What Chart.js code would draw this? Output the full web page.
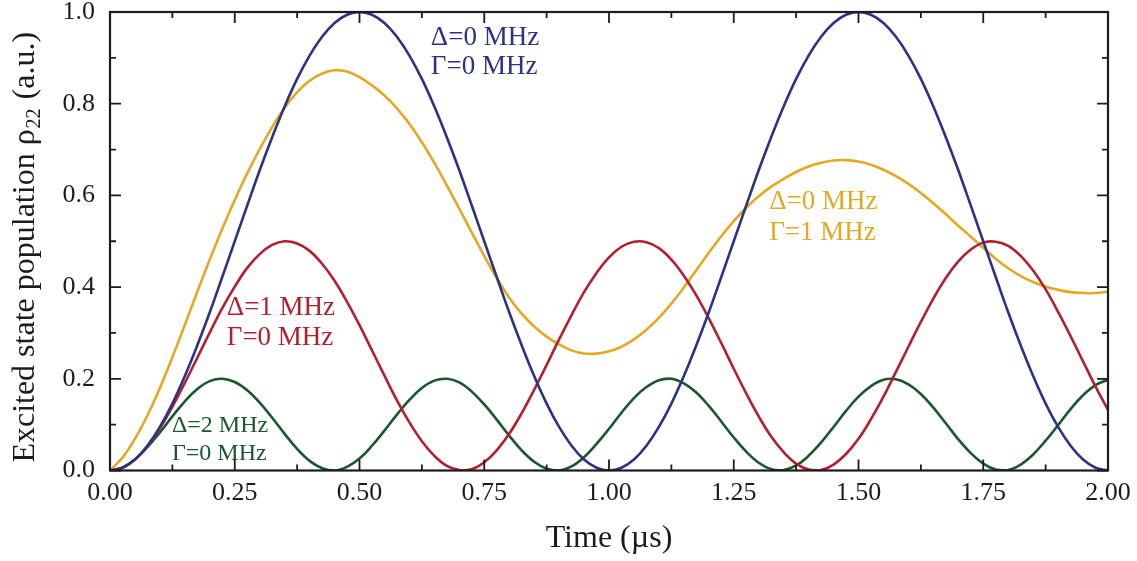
<!DOCTYPE html>
<html>
<head>
<meta charset="utf-8">
<title>Excited state population</title>
<script src="https://cdn.jsdelivr.net/npm/chart.js@4.4.1/dist/chart.umd.min.js"></script>
<style>
  html, body { margin: 0; padding: 0; background: #fff; }
  #wrap { position: relative; width: 1137px; height: 561px; }
</style>
</head>
<body>
<div id="wrap"><canvas id="rabi-chart"></canvas></div>
<script>
// time axis, µs
const timeUs = [
  0, 0.025, 0.05, 0.075, 0.1, 0.125, 0.15, 0.175, 0.2, 0.225,
  0.25, 0.275, 0.3, 0.325, 0.35, 0.375, 0.4, 0.425, 0.45, 0.475,
  0.5, 0.525, 0.55, 0.575, 0.6, 0.625, 0.65, 0.675, 0.7, 0.725,
  0.75, 0.775, 0.8, 0.825, 0.85, 0.875, 0.9, 0.925, 0.95, 0.975,
  1.0, 1.025, 1.05, 1.075, 1.1, 1.125, 1.15, 1.175, 1.2, 1.225,
  1.25, 1.275, 1.3, 1.325, 1.35, 1.375, 1.4, 1.425, 1.45, 1.475,
  1.5, 1.525, 1.55, 1.575, 1.6, 1.625, 1.65, 1.675, 1.7, 1.725,
  1.75, 1.775, 1.8, 1.825, 1.85, 1.875, 1.9, 1.925, 1.95, 1.975,
  2.0
];

// Δ=0, Γ=0
const rhoD0G0 = [
  0, 0.006, 0.024, 0.054, 0.095, 0.146, 0.206, 0.273, 0.345, 0.422,
  0.5, 0.578, 0.655, 0.727, 0.794, 0.854, 0.905, 0.946, 0.976, 0.994,
  1.0, 0.994, 0.976, 0.946, 0.905, 0.854, 0.794, 0.727, 0.655, 0.578,
  0.5, 0.422, 0.345, 0.273, 0.206, 0.146, 0.095, 0.054, 0.024, 0.006,
  0, 0.006, 0.024, 0.054, 0.095, 0.146, 0.206, 0.273, 0.345, 0.422,
  0.5, 0.578, 0.655, 0.727, 0.794, 0.854, 0.905, 0.946, 0.976, 0.994,
  1.0, 0.994, 0.976, 0.946, 0.905, 0.854, 0.794, 0.727, 0.655, 0.578,
  0.5, 0.422, 0.345, 0.273, 0.206, 0.146, 0.095, 0.054, 0.024, 0.006,
  0
];

// Δ=1 MHz, Γ=0
const rhoD1G0 = [
  0, 0.006, 0.024, 0.053, 0.092, 0.139, 0.191, 0.246, 0.301, 0.354,
  0.401, 0.442, 0.472, 0.492, 0.500, 0.495, 0.479, 0.451, 0.414, 0.368,
  0.317, 0.262, 0.207, 0.153, 0.105, 0.064, 0.032, 0.010, 0.001, 0.003,
  0.018, 0.044, 0.080, 0.125, 0.176, 0.230, 0.286, 0.339, 0.389, 0.431,
  0.465, 0.488, 0.499, 0.498, 0.485, 0.460, 0.425, 0.382, 0.332, 0.278,
  0.222, 0.168, 0.118, 0.074, 0.040, 0.015, 0.002, 0.001, 0.013, 0.036,
  0.069, 0.112, 0.161, 0.215, 0.270, 0.324, 0.375, 0.420, 0.456, 0.482,
  0.497, 0.499, 0.490, 0.468, 0.436, 0.395, 0.346, 0.293, 0.238, 0.183,
  0.132
];

// Δ=2 MHz, Γ=0
const rhoD2G0 = [
  0, 0.006, 0.024, 0.051, 0.083, 0.118, 0.151, 0.178, 0.195, 0.200,
  0.193, 0.175, 0.148, 0.115, 0.080, 0.047, 0.021, 0.005, 0.000, 0.008,
  0.026, 0.054, 0.087, 0.122, 0.154, 0.180, 0.196, 0.200, 0.192, 0.172,
  0.144, 0.111, 0.076, 0.044, 0.019, 0.004, 0.000, 0.009, 0.029, 0.058,
  0.091, 0.126, 0.158, 0.182, 0.197, 0.200, 0.190, 0.170, 0.141, 0.107,
  0.072, 0.041, 0.017, 0.003, 0.001, 0.011, 0.032, 0.061, 0.095, 0.130,
  0.161, 0.184, 0.198, 0.199, 0.188, 0.167, 0.137, 0.103, 0.068, 0.038,
  0.015, 0.002, 0.001, 0.013, 0.035, 0.065, 0.099, 0.134, 0.164, 0.186,
  0.198
];

// Δ=0, Γ=1 MHz
const rhoD0G1 = [
  0, 0.028, 0.069, 0.120, 0.180, 0.247, 0.318, 0.390, 0.460, 0.527,
  0.590, 0.648, 0.701, 0.749, 0.791, 0.825, 0.850, 0.866, 0.873, 0.870,
  0.858, 0.840, 0.818, 0.790, 0.756, 0.716, 0.671, 0.622, 0.571, 0.519,
  0.468, 0.420, 0.377, 0.342, 0.314, 0.292, 0.275, 0.262, 0.255, 0.255,
  0.260, 0.270, 0.286, 0.307, 0.333, 0.364, 0.399, 0.437, 0.475, 0.511,
  0.544, 0.573, 0.598, 0.619, 0.636, 0.651, 0.663, 0.671, 0.676, 0.677,
  0.674, 0.667, 0.656, 0.642, 0.625, 0.605, 0.583, 0.559, 0.534, 0.510,
  0.486, 0.462, 0.441, 0.424, 0.411, 0.401, 0.394, 0.389, 0.387, 0.387,
  0.390
];

const xTickLabels = ['0.00', '0.25', '0.50', '0.75', '1.00', '1.25', '1.50', '1.75', '2.00'];
const yTickLabels = ['0.0', '0.2', '0.4', '0.6', '0.8', '1.0'];

const BLUE = '#2b3385';
const RED = '#b2202f';
const GOLD = '#e4a823';
const GREEN = '#18582a';
const INK = '#1c1c1c';
const SERIF = '"Liberation Serif", "Times New Roman", serif';

// curve annotations, anchored in data units (left edge, first baseline)
const curveLabels = [
  { lines: ['Δ=0 MHz', 'Γ=0 MHz'], t: 0.643, v: 0.928, color: BLUE, size: 27, gap: 29 },
  { lines: ['Δ=0 MHz', 'Γ=1 MHz'], t: 1.321, v: 0.570, color: GOLD, size: 27, gap: 31 },
  { lines: ['Δ=1 MHz', 'Γ=0 MHz'], t: 0.234, v: 0.339, color: RED, size: 27, gap: 30 },
  { lines: ['Δ=2 MHz', 'Γ=0 MHz'], t: 0.124, v: 0.085, color: GREEN, size: 24, gap: 28 }
];

const MAJOR = 11;
const MINOR = 6;

function line(values, color) {
  return {
    data: timeUs.map((t, i) => ({ x: t, y: values[i] })),
    borderColor: color,
    borderWidth: 2.6,
    pointRadius: 0,
    fill: false,
    tension: 0.4
  };
}

// box frame with inward major/minor ticks on all four sides
const axesFrame = {
  id: 'axesFrame',
  afterDatasetsDraw(chart) {
    const { ctx, chartArea: a, scales: { x, y } } = chart;
    ctx.save();
    ctx.strokeStyle = INK;
    ctx.lineWidth = 1.8;
    ctx.beginPath();
    const xv = x.ticks.map(t => t.value);
    xv.forEach((v, i) => {
      const px = x.getPixelForValue(v);
      ctx.moveTo(px, a.bottom); ctx.lineTo(px, a.bottom - MAJOR);
      ctx.moveTo(px, a.top); ctx.lineTo(px, a.top + MAJOR);
      if (i < xv.length - 1) {
        const mx = x.getPixelForValue((v + xv[i + 1]) / 2);
        ctx.moveTo(mx, a.bottom); ctx.lineTo(mx, a.bottom - MINOR);
        ctx.moveTo(mx, a.top); ctx.lineTo(mx, a.top + MINOR);
      }
    });
    const yv = y.ticks.map(t => t.value);
    yv.forEach((v, i) => {
      const py = y.getPixelForValue(v);
      ctx.moveTo(a.left, py); ctx.lineTo(a.left + MAJOR, py);
      ctx.moveTo(a.right, py); ctx.lineTo(a.right - MAJOR, py);
      if (i < yv.length - 1) {
        const my = y.getPixelForValue((v + yv[i + 1]) / 2);
        ctx.moveTo(a.left, my); ctx.lineTo(a.left + MINOR, my);
        ctx.moveTo(a.right, my); ctx.lineTo(a.right - MINOR, my);
      }
    });
    ctx.stroke();
    ctx.lineWidth = 2.2;
    ctx.strokeRect(a.left, a.top, a.right - a.left, a.bottom - a.top);
    ctx.restore();
  }
};

// axis titles (y title needs a subscript) and the per-curve labels
const textLayer = {
  id: 'textLayer',
  afterDraw(chart) {
    const { ctx, chartArea: a, scales: { x, y } } = chart;
    ctx.save();
    ctx.fillStyle = INK;
    ctx.textBaseline = 'alphabetic';

    ctx.font = `32px ${SERIF}`;
    ctx.textAlign = 'center';
    ctx.fillText('Time (µs)', (a.left + a.right) / 2, 547);

    ctx.save();
    ctx.translate(34, (a.top + a.bottom) / 2 + 6);
    ctx.rotate(-Math.PI / 2);
    ctx.textAlign = 'left';
    const head = 'Excited state population ρ';
    const sub = '22';
    const tail = ' (a.u.)';
    ctx.font = `32px ${SERIF}`;
    const wHead = ctx.measureText(head).width;
    const wTail = ctx.measureText(tail).width;
    ctx.font = `20px ${SERIF}`;
    const wSub = ctx.measureText(sub).width;
    let cx = -(wHead + wSub + wTail + 2) / 2;
    ctx.font = `32px ${SERIF}`;
    ctx.fillText(head, cx, 0);
    cx += wHead + 1;
    ctx.font = `20px ${SERIF}`;
    ctx.fillText(sub, cx, 6);
    cx += wSub + 1;
    ctx.font = `32px ${SERIF}`;
    ctx.fillText(tail, cx, 0);
    ctx.restore();

    ctx.textAlign = 'left';
    curveLabels.forEach(l => {
      ctx.fillStyle = l.color;
      ctx.font = `${l.size}px ${SERIF}`;
      const lx = x.getPixelForValue(l.t);
      const ly = y.getPixelForValue(l.v);
      l.lines.forEach((s, i) => ctx.fillText(s, lx, ly + i * l.gap));
    });
    ctx.restore();
  }
};

const tickFont = { family: SERIF, size: 26, lineHeight: 1 };

new Chart(document.getElementById('rabi-chart'), {
  type: 'line',
  data: {
    datasets: [
      line(rhoD0G0, BLUE),
      line(rhoD1G0, RED),
      line(rhoD0G1, GOLD),
      line(rhoD2G0, GREEN)
    ]
  },
  options: {
    responsive: true,
    maintainAspectRatio: false,
    animation: false,
    layout: { padding: { left: 0, top: 12, right: 29, bottom: 0 } },
    plugins: { legend: { display: false }, tooltip: { enabled: false } },
    scales: {
      x: {
        type: 'linear',
        min: 0,
        max: 2,
        grid: { display: false, drawTicks: false },
        border: { display: false },
        ticks: {
          stepSize: 0.25,
          padding: 10,
          color: INK,
          font: tickFont,
          maxRotation: 0,
          autoSkip: false,
          callback: (v, i) => xTickLabels[i]
        },
        // edge labels may hang past the frame; the layout padding covers them
        afterFit(scale) {
          scale.height = 90.5;
          scale.paddingLeft = 0;
          scale.paddingRight = 0;
        }
      },
      y: {
        min: 0,
        max: 1,
        grid: { display: false, drawTicks: false },
        border: { display: false },
        ticks: {
          stepSize: 0.2,
          padding: 15,
          color: INK,
          font: tickFont,
          callback: (v, i) => yTickLabels[i]
        },
        afterFit(scale) {
          scale.width = 110;
          scale.paddingTop = 0;
          scale.paddingBottom = 0;
        }
      }
    }
  },
  plugins: [axesFrame, textLayer]
});
</script>
</body>
</html>
